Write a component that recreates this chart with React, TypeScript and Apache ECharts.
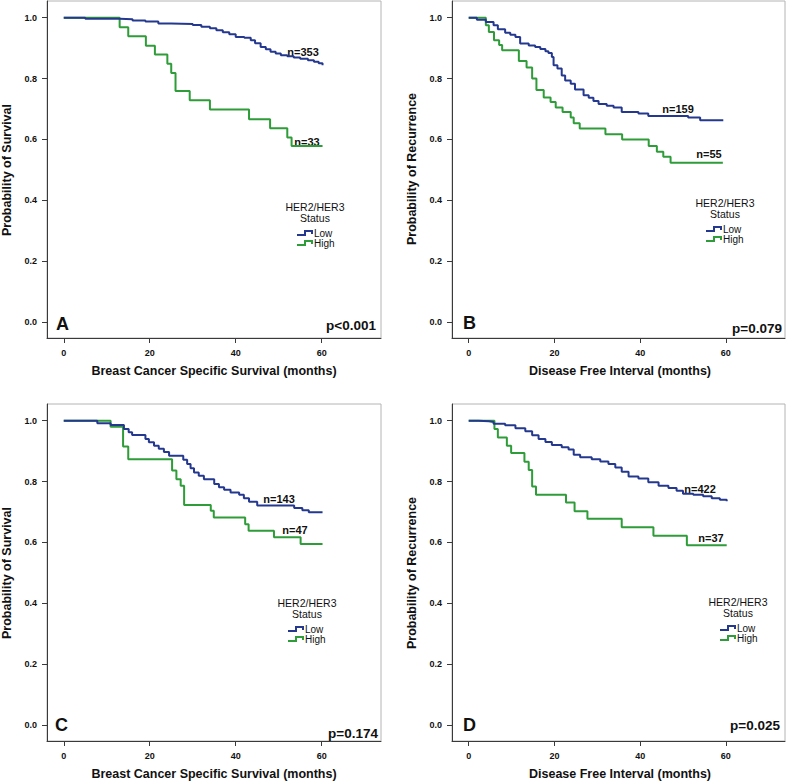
import React, { useEffect, useRef } from "react";
import * as echarts from "echarts";

const xTicks = [0, 20, 40, 60];
const yTicks = [0, 0.2, 0.4, 0.6, 0.8, 1.0];
const legendTitle = ["HER2/HER3", "Status"];
const legendNames = ["Low", "High"];

// Panel A - Breast cancer specific survival
const aLowT = [0, 5, 13, 16, 19, 22, 25, 30, 32, 34, 35.5, 37, 38.5, 40, 42, 43.5, 44.5, 45.8, 47, 48.1, 49.3, 50.5, 52, 53.5, 55, 56.8, 58.2, 59.3, 60.2];
const aLowS = [1, 0.997, 0.995, 0.991, 0.988, 0.981, 0.979, 0.976, 0.97, 0.965, 0.959, 0.952, 0.946, 0.937, 0.934, 0.926, 0.916, 0.904, 0.896, 0.888, 0.882, 0.877, 0.873, 0.869, 0.865, 0.86, 0.855, 0.85, 0.844];
const aHighT = [0, 13, 15, 19.1, 21.2, 24.1, 25, 26, 29.3, 34, 43.1, 48, 52, 53, 60.2];
const aHighS = [1, 0.969, 0.939, 0.908, 0.879, 0.849, 0.818, 0.759, 0.729, 0.698, 0.666, 0.637, 0.606, 0.578, 0.578];

// Panel B - Disease free interval
const bLowT = [0, 1.9, 4, 5.8, 6.8, 8.5, 9.7, 10.9, 12, 14, 15.5, 16.7, 17.9, 18.6, 19.4, 19.8, 20.7, 21.7, 22.5, 23.8, 24.8, 26.8, 28, 29.1, 30.3, 32.2, 33.8, 35.7, 39.6, 41.9, 51.2, 54, 59.4];
const bLowS = [1, 0.993, 0.986, 0.975, 0.962, 0.951, 0.944, 0.937, 0.915, 0.909, 0.904, 0.897, 0.89, 0.884, 0.871, 0.844, 0.833, 0.81, 0.794, 0.783, 0.764, 0.745, 0.737, 0.726, 0.716, 0.711, 0.705, 0.69, 0.685, 0.677, 0.672, 0.663, 0.663];
const bHighT = [0, 4, 4.7, 5.9, 7.1, 7.8, 11.7, 13.5, 14.8, 15.8, 17.5, 19.1, 20.3, 21.9, 23.8, 24.5, 25.9, 31.9, 35.8, 42, 43.9, 45.4, 47.1, 59.3];
const bHighS = [1, 0.975, 0.953, 0.926, 0.91, 0.893, 0.858, 0.836, 0.8, 0.762, 0.738, 0.723, 0.705, 0.69, 0.672, 0.653, 0.636, 0.617, 0.6, 0.578, 0.559, 0.543, 0.523, 0.523];

// Panel C - Breast cancer specific survival
const cLowT = [0, 7.8, 10.9, 14, 15.1, 15.9, 19, 19.8, 21, 22.1, 23.3, 24.5, 27.8, 28.7, 29.5, 30.3, 31.4, 32.6, 35, 36.1, 37.3, 38.8, 40.8, 41.9, 43.1, 45, 53.6, 55.5, 57, 60.2];
const cLowS = [1, 0.992, 0.986, 0.973, 0.962, 0.953, 0.94, 0.929, 0.918, 0.908, 0.897, 0.885, 0.872, 0.858, 0.844, 0.83, 0.819, 0.808, 0.792, 0.781, 0.773, 0.764, 0.757, 0.745, 0.734, 0.721, 0.713, 0.706, 0.699, 0.699];
const cHighT = [0, 10.9, 13.8, 15, 25.2, 26.2, 27.2, 28, 34.2, 34.9, 42.2, 43, 48.9, 55.1, 60.2];
const cHighS = [1, 0.98, 0.915, 0.873, 0.836, 0.808, 0.786, 0.723, 0.704, 0.682, 0.66, 0.638, 0.617, 0.595, 0.595];

// Panel D - Disease free interval
const dLowT = [0, 2.3, 4.7, 5.8, 8.5, 10.9, 13.2, 14.8, 16.3, 17.9, 19.4, 21.7, 23.3, 24.5, 26, 28.7, 30.7, 32.6, 34.2, 35.7, 37.3, 39.6, 41.9, 44.3, 46.6, 48.5, 50, 52.4, 54.7, 56.7, 58.6, 60.2];
const dLowS = [1, 0.998, 0.996, 0.99, 0.985, 0.975, 0.965, 0.952, 0.94, 0.93, 0.92, 0.913, 0.905, 0.888, 0.88, 0.873, 0.866, 0.858, 0.846, 0.832, 0.817, 0.81, 0.798, 0.786, 0.779, 0.77, 0.76, 0.757, 0.752, 0.745, 0.74, 0.735];
const dHighT = [0, 6, 6.8, 8.9, 9.9, 13, 14, 14.8, 15.7, 22.7, 24.7, 27.7, 35.7, 43.1, 50.9, 60.2];
const dHighS = [1, 0.973, 0.945, 0.918, 0.894, 0.865, 0.838, 0.784, 0.757, 0.731, 0.702, 0.678, 0.65, 0.622, 0.591, 0.591];

const BLUE = "#24388f";
const GREEN = "#2e9c38";
const FONT = "Liberation Sans, Arial, sans-serif";

const panels = [
  {
    grid: { left: 47, top: 1, width: 334, height: 337 },
    lowT: aLowT, lowS: aLowS, highT: aHighT, highS: aHighS,
    letter: "A", p: "p<0.001",
    xTitle: "Breast Cancer Specific Survival (months)", yTitle: "Probability of Survival",
    nLow: "n=353", nHigh: "n=33",
    letterPos: [56, 324], pPos: [376, 325], nLowPos: [303, 52], nHighPos: [307, 142],
    xTitlePos: [214, 371], yTitlePos: [7, 170], legendPos: [315, 207], legendIconX: 297,
  },
  {
    grid: { left: 452, top: 1, width: 333, height: 337 },
    lowT: bLowT, lowS: bLowS, highT: bHighT, highS: bHighS,
    letter: "B", p: "p=0.079",
    xTitle: "Disease Free Interval (months)", yTitle: "Probability of Recurrence",
    nLow: "n=159", nHigh: "n=55",
    letterPos: [463, 323], pPos: [782, 328], nLowPos: [678, 109], nHighPos: [709, 154],
    xTitlePos: [620, 371], yTitlePos: [412, 169], legendPos: [725, 203], legendIconX: 706,
  },
  {
    grid: { left: 47, top: 404, width: 334, height: 337 },
    lowT: cLowT, lowS: cLowS, highT: cHighT, highS: cHighS,
    letter: "C", p: "p=0.174",
    xTitle: "Breast Cancer Specific Survival (months)", yTitle: "Probability of Survival",
    nLow: "n=143", nHigh: "n=47",
    letterPos: [55, 725], pPos: [378, 733], nLowPos: [279, 499], nHighPos: [295, 530],
    xTitlePos: [214, 774], yTitlePos: [7, 573], legendPos: [307, 603], legendIconX: 288,
  },
  {
    grid: { left: 452, top: 404, width: 333, height: 337 },
    lowT: dLowT, lowS: dLowS, highT: dHighT, highS: dHighS,
    letter: "D", p: "p=0.025",
    xTitle: "Disease Free Interval (months)", yTitle: "Probability of Recurrence",
    nLow: "n=422", nHigh: "n=37",
    letterPos: [463, 725], pPos: [780, 725], nLowPos: [700, 489], nHighPos: [711, 538],
    xTitlePos: [620, 774], yTitlePos: [412, 573], legendPos: [738, 602], legendIconX: 720,
  },
];

function txt(x: number, y: number, text: string, font: string, align = "center", extra: any = {}) {
  return {
    type: "text",
    x, y,
    silent: true,
    ...extra,
    style: { text, font, fill: "#111", align, verticalAlign: "middle" },
  };
}

export default function App() {
  const ref = useRef<HTMLDivElement>(null);
  useEffect(() => {
    if (!ref.current) return;
    const chart = echarts.init(ref.current, null, { renderer: "svg" });
    const grid: any[] = [];
    const xAxis: any[] = [];
    const yAxis: any[] = [];
    const series: any[] = [];
    const graphic: any[] = [];
    panels.forEach((p, i) => {
      grid.push({ ...p.grid, show: true, borderColor: "#b4b4b4", borderWidth: 1, backgroundColor: "#fff" });
      xAxis.push({
        type: "value", gridIndex: i, min: -3.9, max: 73.8,
        axisLine: { show: true, onZero: false, lineStyle: { color: "#3a3a3a", width: 1 } },
        axisTick: { show: true, length: 5, customValues: xTicks, lineStyle: { color: "#3a3a3a" } },
        axisLabel: { customValues: xTicks, margin: 10, color: "#111", fontFamily: FONT, fontWeight: "bold", fontSize: 9 },
        splitLine: { show: false },
      });
      yAxis.push({
        type: "value", gridIndex: i, min: -0.053, max: 1.055,
        axisLine: { show: true, onZero: false, lineStyle: { color: "#3a3a3a", width: 1 } },
        axisTick: { show: true, length: 5, customValues: yTicks, lineStyle: { color: "#3a3a3a" } },
        axisLabel: {
          customValues: yTicks, margin: 10, color: "#111", fontFamily: FONT, fontWeight: "bold", fontSize: 9,
          formatter: (v: number) => v.toFixed(1),
        },
        splitLine: { show: false },
      });
      series.push({
        type: "line", name: legendNames[0], xAxisIndex: i, yAxisIndex: i, step: "end", symbol: "none",
        lineStyle: { color: BLUE, width: 2 }, z: 3,
        data: p.lowT.map((t, k) => [t, p.lowS[k]]),
      });
      series.push({
        type: "line", name: legendNames[1], xAxisIndex: i, yAxisIndex: i, step: "end", symbol: "none",
        lineStyle: { color: GREEN, width: 2 }, z: 2,
        data: p.highT.map((t, k) => [t, p.highS[k]]),
      });
      graphic.push(txt(p.letterPos[0], p.letterPos[1], p.letter, `bold 18px ${FONT}`, "left"));
      graphic.push(txt(p.pPos[0], p.pPos[1], p.p, `bold 13.5px ${FONT}`, "right"));
      graphic.push(txt(p.nLowPos[0], p.nLowPos[1], p.nLow, `bold 11px ${FONT}`));
      graphic.push(txt(p.nHighPos[0], p.nHighPos[1], p.nHigh, `bold 11px ${FONT}`));
      graphic.push(txt(p.xTitlePos[0], p.xTitlePos[1], p.xTitle, `bold 12.5px ${FONT}`));
      graphic.push(txt(p.yTitlePos[0], p.yTitlePos[1], p.yTitle, `bold 12.5px ${FONT}`, "center", { rotation: Math.PI / 2 }));
      const [lx, ly] = p.legendPos;
      graphic.push(txt(lx, ly, legendTitle[0], `10.5px ${FONT}`));
      graphic.push(txt(lx, ly + 11, legendTitle[1], `10.5px ${FONT}`));
      const ix = p.legendIconX;
      [BLUE, GREEN].forEach((c, k) => {
        const yy = ly + 26 + k * 10;
        graphic.push({
          type: "polyline", silent: true,
          shape: { points: [[ix, yy + 2], [ix + 8, yy + 2], [ix + 8, yy - 2], [ix + 15, yy - 2], [ix + 15, yy + 1]] },
          style: { stroke: c, lineWidth: 2, fill: null },
        });
        graphic.push(txt(ix + 17, yy, legendNames[k], `10px ${FONT}`, "left"));
      });
    });
    chart.setOption({
      animation: false,
      backgroundColor: "#fff",
      grid, xAxis, yAxis, series, graphic,
    });
    return () => chart.dispose();
  }, []);
  return (
    <div
      ref={ref}
      style={{ position: "fixed", left: 0, top: 0, width: 787, height: 782, background: "#fff" }}
    />
  );
}
